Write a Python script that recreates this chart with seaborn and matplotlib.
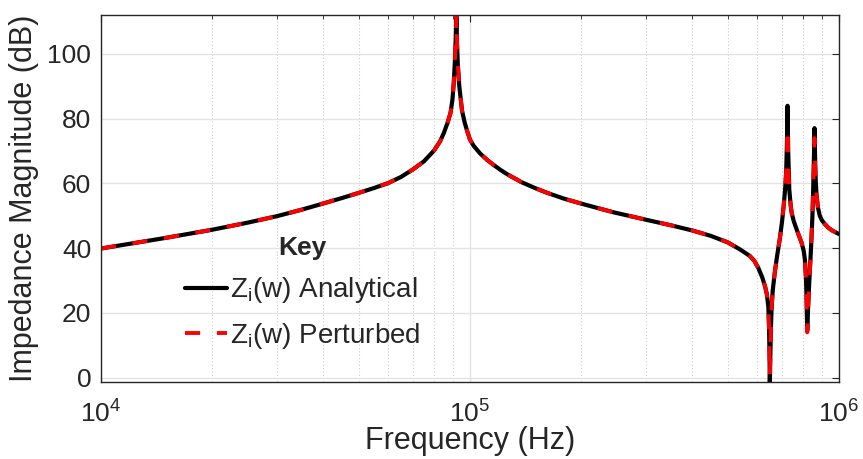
import numpy as np
import pandas as pd
import matplotlib
matplotlib.use("Agg")
import matplotlib.pyplot as plt
import matplotlib.ticker as mticker
import seaborn as sns

# values (Hz, dB)
freq = [1.0e4, 1.5e4, 2.0e4, 2.5e4, 3.0e4, 3.5e4, 4.0e4, 4.5e4, 5.0e4, 5.5e4,
        6.0e4, 6.5e4, 7.0e4, 7.5e4, 8.0e4, 8.3e4, 8.5e4, 8.7e4, 8.86e4, 8.97e4,
        9.04e4, 9.1e4, 9.15e4, 9.19e4, 9.23e4, 9.27e4, 9.36e4, 9.52e4, 9.68e4, 9.83e4,
        1.0e5, 1.024e5, 1.067e5, 1.113e5, 1.16e5, 1.21e5, 1.26e5, 1.38e5, 1.5e5, 1.62e5,
        1.8e5, 2.0e5, 2.45e5, 3.0e5, 3.5e5, 4.0e5, 4.5e5, 5.0e5, 5.4e5, 5.74e5,
        5.9e5, 6.05e5, 6.2e5, 6.31e5, 6.38e5, 6.44e5, 6.47e5, 6.49e5, 6.5e5, 6.52e5,
        6.54e5, 6.57e5, 6.62e5, 6.71e5, 6.8e5, 6.92e5, 7.02e5, 7.1e5, 7.16e5, 7.2e5,
        7.24e5, 7.26e5, 7.29e5, 7.34e5, 7.4e5, 7.45e5, 7.55e5, 7.69e5, 7.93e5, 8.03e5,
        8.09e5, 8.14e5, 8.17e5, 8.21e5, 8.25e5, 8.31e5, 8.38e5, 8.43e5, 8.48e5, 8.52e5,
        8.56e5, 8.59e5, 8.63e5, 8.66e5, 8.7e5, 8.78e5, 8.88e5, 9.0e5, 9.16e5, 9.35e5,
        9.55e5, 9.8e5, 1.0e6]
z_analytical = [39.9, 43.2, 45.7, 47.9, 49.9, 51.9, 53.8, 55.5, 57.1, 58.6,
                60.1, 62.0, 64.3, 66.8, 70.2, 73.0, 75.6, 78.8, 81.8, 86.0,
                91.0, 97.0, 104.0, 112.0, 103.0, 97.0, 90.0, 82.5, 78.8, 76.2,
                73.6, 71.6, 69.2, 67.3, 65.7, 64.2, 62.9, 60.4, 58.6, 57.1,
                55.3, 53.8, 51.1, 48.8, 47.1, 45.5, 43.8, 41.8, 39.6, 37.6,
                36.1, 33.9, 31.0, 28.2, 25.8, 22.0, 15.0, 6.0, -2.0, 6.0,
                14.0, 21.0, 27.0, 32.8, 37.5, 43.0, 48.5, 54.0, 59.0, 64.0,
                74.0, 84.0, 70.0, 58.1, 53.5, 50.9, 48.3, 45.7, 41.6, 39.2,
                36.5, 31.5, 26.0, 14.6, 21.0, 29.0, 37.0, 43.0, 50.0, 58.0,
                68.0, 77.1, 66.0, 60.5, 56.5, 52.5, 50.0, 48.6, 47.5, 46.4,
                45.6, 44.9, 44.4]
z_perturbed = [39.9, 43.2, 45.7, 47.9, 49.9, 51.9, 53.8, 55.5, 57.1, 58.6,
               60.1, 62.0, 64.3, 66.8, 70.2, 73.0, 75.6, 78.8, 81.8, 86.0,
               91.0, 97.0, 104.0, 112.0, 103.0, 97.0, 90.0, 82.5, 78.8, 76.2,
               73.6, 71.6, 69.2, 67.3, 65.7, 64.2, 62.9, 60.4, 58.6, 57.1,
               55.3, 53.8, 51.1, 48.8, 47.1, 45.5, 43.8, 41.8, 39.6, 37.6,
               36.1, 33.9, 31.0, 28.2, 25.8, 22.0, 15.0, 6.0, 0.5, 6.0,
               14.0, 21.0, 27.0, 32.8, 37.5, 43.0, 48.5, 54.0, 59.0, 64.0,
               70.0, 77.0, 66.0, 58.1, 53.5, 50.9, 48.3, 45.7, 41.6, 39.2,
               36.5, 31.5, 26.0, 14.0, 21.0, 29.0, 37.0, 43.0, 50.0, 58.0,
               66.0, 74.0, 64.0, 60.5, 56.5, 52.5, 50.0, 48.6, 47.5, 46.4,
               45.6, 44.9, 44.4]

df = pd.DataFrame({"freq": freq, "analytical": z_analytical,
                   "perturbed": z_perturbed})

sns.set_style("white")
plt.rcParams["font.family"] = ["Liberation Sans", "DejaVu Sans"]
plt.rcParams["mathtext.fontset"] = "custom"
plt.rcParams["mathtext.rm"] = "Liberation Sans"
plt.rcParams["mathtext.it"] = "Liberation Sans:italic"
plt.rcParams["mathtext.bf"] = "Liberation Sans:bold"
txt = "#262626"

fig, ax = plt.subplots(figsize=(8.63, 4.59), dpi=100)
fig.subplots_adjust(left=0.117, right=0.972, bottom=0.168, top=0.967)

sns.lineplot(data=df, x="freq", y="analytical", ax=ax, color="black",
             linewidth=3.0, label=r"Z$_\mathrm{i}$(w) Analytical")
sns.lineplot(data=df, x="freq", y="perturbed", ax=ax, color="#ff0000",
             linewidth=2.8, linestyle=(0, (3.9, 4.3)),
             label=r"Z$_\mathrm{i}$(w) Perturbed")

ax.set_xscale("log")
ax.set_xlim(1e4, 1e6)
ax.set_ylim(-1.3, 112)
ax.set_yticks([0, 20, 40, 60, 80, 100])
ax.xaxis.set_minor_locator(mticker.LogLocator(base=10, subs=np.arange(2, 10)))
ax.xaxis.set_minor_formatter(mticker.NullFormatter())

ax.grid(True, which="major", axis="both", color="#e3e3e3", lw=1.0, ls="-")
ax.grid(True, which="minor", axis="x", color="#cccccc", lw=0.8, ls=(0, (1, 2)))
ax.set_axisbelow(True)

ax.tick_params(which="both", direction="in", top=True, right=True,
               colors=txt, labelsize=19)
ax.tick_params(which="major", length=5, width=0.8, pad=7)
ax.tick_params(which="minor", length=3, width=0.6)
ax.tick_params(axis="x", which="major", pad=13)
for s in ax.spines.values():
    s.set_color(txt)
    s.set_linewidth(1.0)

ax.set_xlabel("Frequency (Hz)", fontsize=22, color=txt, labelpad=-1)
ax.set_ylabel("Impedance Magnitude (dB)", fontsize=22, color=txt, labelpad=6)

leg = ax.legend(title="Key", frameon=False, loc="upper left",
                bbox_to_anchor=(0.192, 0.528), bbox_transform=fig.transFigure,
                fontsize=20, handlelength=1.5, handletextpad=0.1,
                labelspacing=0.55, borderpad=0.2,
                title_fontproperties={"weight": "bold", "size": 19})

fig.savefig("out.png", dpi=100)
